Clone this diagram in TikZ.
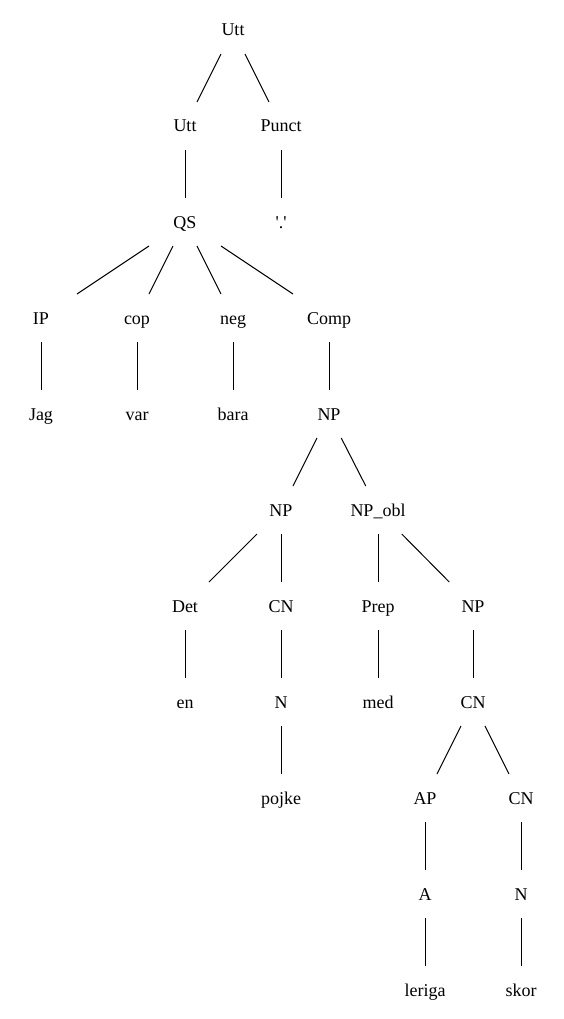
\documentclass[tikz,border=0pt]{standalone}
\usepackage{fontspec}
\setmainfont{Liberation Serif}
\usetikzlibrary{calc}
\tikzset{
  lbl/.style={inner sep=0pt, text height=12pt, text depth=0pt, font=\fontsize{18}{20}\selectfont},
  edge/.style={draw=black, line width=1pt}
}
\newcommand{\tedge}[2]{\draw[edge] ($(#1.center)!0.25!(#2.center)$) -- ($(#1.center)!0.75!(#2.center)$);}
\begin{document}
\begin{tikzpicture}[x=1pt,y=-1pt]
\useasboundingbox[fill=white] (0,0) rectangle (563,1019);
\node[lbl] (utt0) at (233,30) {Utt};
\node[lbl] (utt1) at (185,126) {Utt};
\node[lbl] (punct) at (281,126) {Punct};
\node[lbl] (qs) at (185,222) {QS};
\node[lbl] (dot) at (281,222) {\textquotesingle.\textquotesingle};
\node[lbl] (ip) at (41,318) {IP};
\node[lbl] (cop) at (137,318) {cop};
\node[lbl] (neg) at (233,318) {neg};
\node[lbl] (comp) at (329,318) {Comp};
\node[lbl] (jag) at (41,414) {Jag};
\node[lbl] (var) at (137,414) {var};
\node[lbl] (bara) at (233,414) {bara};
\node[lbl] (np0) at (329,414) {NP};
\node[lbl] (np1) at (281,510) {NP};
\node[lbl] (npobl) at (378,510) {NP\_obl};
\node[lbl] (det) at (185,606) {Det};
\node[lbl] (cn1) at (281,606) {CN};
\node[lbl] (prep) at (378,606) {Prep};
\node[lbl] (np2) at (473,606) {NP};
\node[lbl] (en) at (185,702) {en};
\node[lbl] (n1) at (281,702) {N};
\node[lbl] (med) at (378,702) {med};
\node[lbl] (cn2) at (473,702) {CN};
\node[lbl] (pojke) at (281,798) {pojke};
\node[lbl] (ap) at (425,798) {AP};
\node[lbl] (cn3) at (521,798) {CN};
\node[lbl] (a) at (425,894) {A};
\node[lbl] (n2) at (521,894) {N};
\node[lbl] (leriga) at (425,990) {leriga};
\node[lbl] (skor) at (521,990) {skor};
\tedge{utt0}{utt1}
\tedge{utt0}{punct}
\tedge{utt1}{qs}
\tedge{punct}{dot}
\tedge{qs}{ip}
\tedge{qs}{cop}
\tedge{qs}{neg}
\tedge{qs}{comp}
\tedge{ip}{jag}
\tedge{cop}{var}
\tedge{neg}{bara}
\tedge{comp}{np0}
\tedge{np0}{np1}
\tedge{np0}{npobl}
\tedge{np1}{det}
\tedge{np1}{cn1}
\tedge{npobl}{prep}
\tedge{npobl}{np2}
\tedge{det}{en}
\tedge{cn1}{n1}
\tedge{prep}{med}
\tedge{np2}{cn2}
\tedge{n1}{pojke}
\tedge{cn2}{ap}
\tedge{cn2}{cn3}
\tedge{ap}{a}
\tedge{cn3}{n2}
\tedge{a}{leriga}
\tedge{n2}{skor}
\end{tikzpicture}
\end{document}
